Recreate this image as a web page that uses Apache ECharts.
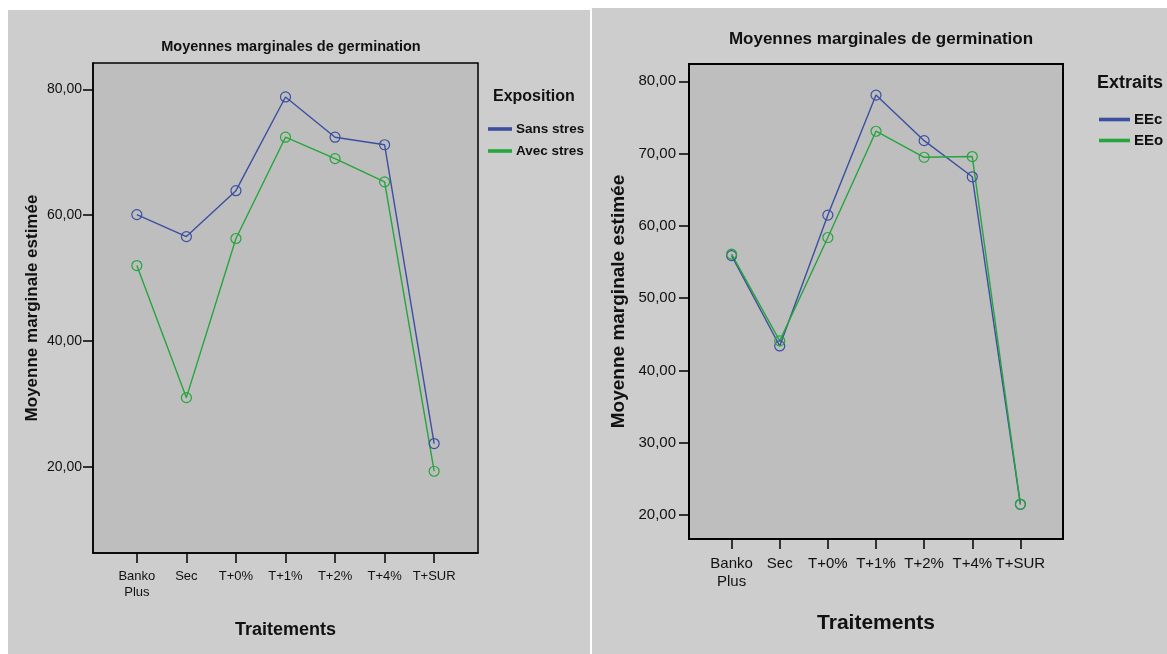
<!DOCTYPE html>
<html>
<head>
<meta charset="utf-8">
<script src="https://cdn.jsdelivr.net/npm/echarts@6/dist/echarts.min.js"></script>
<style>
html,body{margin:0;padding:0;background:#ffffff;}
#c{width:1167px;height:654px;}
</style>
</head>
<body>
<div id="c"></div>
<script>
// ---- data ----
const categories = ['Banko\nPlus', 'Sec', 'T+0%', 'T+1%', 'T+2%', 'T+4%', 'T+SUR'];
const sansStres = [60.1, 56.6, 63.9, 78.8, 72.4, 71.2, 23.7];
const avecStres = [52.0, 31.0, 56.3, 72.4, 69.0, 65.3, 19.3];
const eec = [55.9, 43.4, 61.5, 78.1, 71.8, 66.8, 21.5];
const eeo = [56.1, 44.1, 58.4, 73.1, 69.5, 69.6, 21.5];
const yTicksLeft = [20, 40, 60, 80];
const yTicksRight = [20, 30, 40, 50, 60, 70, 80];
const xTickIdx = categories.map((c, i) => i);

const FONT = "'Liberation Sans', Arial, sans-serif";
const BLUE = '#3B4FA0';
const GREEN = '#25A53C';
const fmtY = v => v.toFixed(2).replace('.', ',');
const pairs = arr => arr.map((v, i) => [i, v]);

const chart = echarts.init(document.getElementById('c'), null, {renderer: 'canvas'});

function xAxisCfg(gridIndex, fs, margin, nameSize, nameGap) {
  return {
    gridIndex: gridIndex, type: 'value', min: -0.885, max: 6.885,
    name: 'Traitements', nameLocation: 'middle', nameGap: nameGap,
    nameTextStyle: {fontFamily: FONT, fontSize: nameSize, fontWeight: 'bold', color: '#111'},
    axisLine: {show: true, onZero: false, lineStyle: {color: '#000', width: 1.5}},
    axisTick: {show: true, length: 10, lineStyle: {color: '#000', width: 1.5}, customValues: xTickIdx},
    axisLabel: {show: true, customValues: xTickIdx, margin: margin, fontFamily: FONT, fontSize: fs,
      lineHeight: fs + 3, color: '#111', formatter: v => categories[Math.round(v)]},
    splitLine: {show: false}
  };
}
function yAxisCfg(gridIndex, min, max, ticks, fs, margin, nameSize, nameGap) {
  return {
    gridIndex: gridIndex, type: 'value', min: min, max: max,
    name: 'Moyenne marginale estimée', nameLocation: 'middle', nameGap: nameGap, nameRotate: 90,
    nameTextStyle: {fontFamily: FONT, fontSize: nameSize, fontWeight: 'bold', color: '#111'},
    axisLine: {show: true, onZero: false, lineStyle: {color: '#000', width: 1.5}},
    axisTick: {show: true, length: 10, lineStyle: {color: '#000', width: 1.5}, customValues: ticks},
    axisLabel: {show: true, customValues: ticks, margin: margin, fontFamily: FONT, fontSize: fs,
      color: '#111', formatter: fmtY},
    splitLine: {show: false}
  };
}
function lineSeries(name, data, color, xi, yi) {
  return {
    name: name, type: 'line', xAxisIndex: xi, yAxisIndex: yi, data: pairs(data),
    symbol: 'circle', symbolSize: 10, showAllSymbol: true,
    lineStyle: {color: color, width: 1.4},
    itemStyle: {color: 'rgba(0,0,0,0)', borderColor: color, borderWidth: 1.2},
    emphasis: {disabled: true}, animation: false
  };
}

const option = {
  animation: false,
  backgroundColor: '#ffffff',
  graphic: [
    {type: 'rect', z: -10, shape: {x: 8, y: 10, width: 582, height: 644}, style: {fill: '#cdcdcd'}},
    {type: 'rect', z: -10, shape: {x: 592, y: 8, width: 575, height: 646}, style: {fill: '#cdcdcd'}}
  ],
  title: [
    {text: 'Moyennes marginales de germination', left: 286, top: 34, textAlign: 'center',
      textStyle: {fontFamily: FONT, fontSize: 14.5, fontWeight: 'bold', color: '#111'}},
    {text: 'Moyennes marginales de germination', left: 876, top: 26, textAlign: 'center',
      textStyle: {fontFamily: FONT, fontSize: 17, fontWeight: 'bold', color: '#111'}},
    {text: 'Exposition', left: 488, top: 84,
      textStyle: {fontFamily: FONT, fontSize: 16, fontWeight: 'bold', color: '#111'}},
    {text: 'Extraits', left: 1092, top: 69,
      textStyle: {fontFamily: FONT, fontSize: 18, fontWeight: 'bold', color: '#111'}}
  ],
  legend: [
    {data: [{name: 'Sans stres', itemStyle: {color: BLUE}}, {name: 'Avec stres', itemStyle: {color: GREEN}}],
      orient: 'vertical', left: 483, top: 117, itemGap: 8,
      icon: 'rect', itemWidth: 22, itemHeight: 1.6, selectedMode: false,
      textStyle: {fontFamily: FONT, fontSize: 13.5, fontWeight: 'bold', color: '#111', lineHeight: 14}},
    {data: [{name: 'EEc', itemStyle: {color: BLUE}}, {name: 'EEo', itemStyle: {color: GREEN}}],
      orient: 'vertical', left: 1094, top: 107, itemGap: 6,
      icon: 'rect', itemWidth: 29, itemHeight: 1.6, selectedMode: false,
      textStyle: {fontFamily: FONT, fontSize: 15, fontWeight: 'bold', color: '#111', lineHeight: 15}}
  ],
  grid: [
    {left: 93, top: 63, width: 385, height: 490, show: true, backgroundColor: '#bebebe',
      borderColor: '#000', borderWidth: 1.5},
    {left: 689, top: 64, width: 374, height: 475, show: true, backgroundColor: '#bebebe',
      borderColor: '#000', borderWidth: 2}
  ],
  xAxis: [
    xAxisCfg(0, 13, 15, 18, 68),
    xAxisCfg(1, 15, 16, 21, 74)
  ],
  yAxis: [
    yAxisCfg(0, 6.3, 84.2, yTicksLeft, 14, 11, 17, 52),
    yAxisCfg(1, 16.7, 82.4, yTicksRight, 15, 13, 19, 61)
  ],
  series: [
    lineSeries('Sans stres', sansStres, BLUE, 0, 0),
    lineSeries('Avec stres', avecStres, GREEN, 0, 0),
    lineSeries('EEc', eec, BLUE, 1, 1),
    lineSeries('EEo', eeo, GREEN, 1, 1)
  ]
};
chart.setOption(option);
</script>
</body>
</html>
